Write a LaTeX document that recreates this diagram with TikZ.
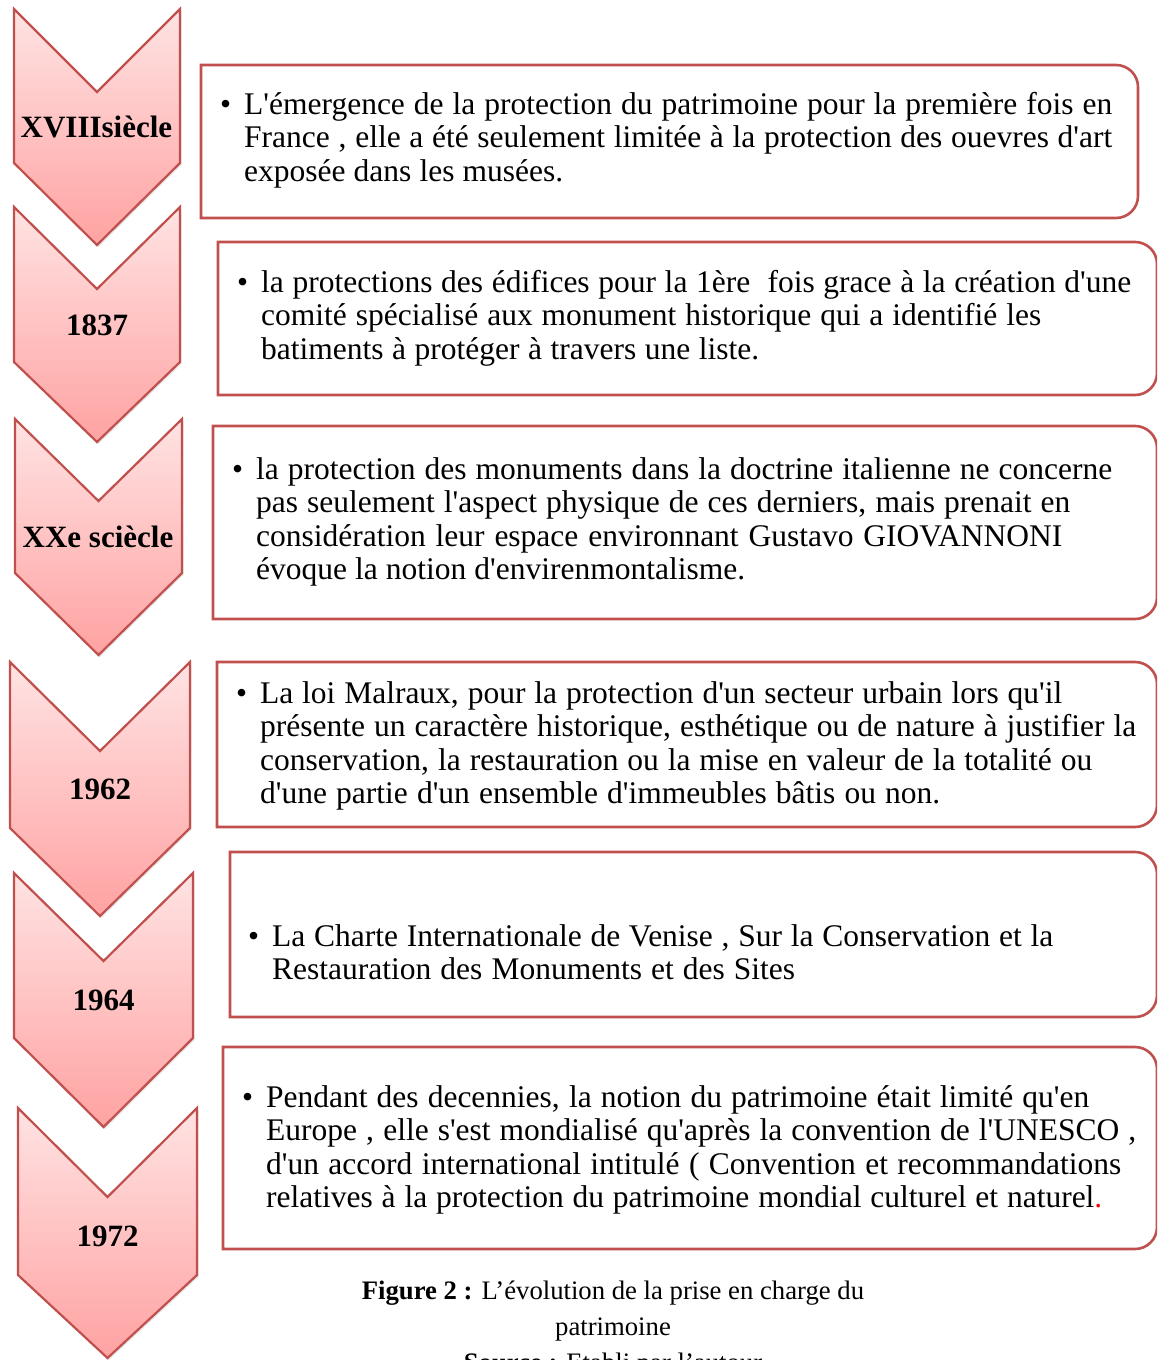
\documentclass[tikz,border=0pt]{standalone}
\usepackage{fontspec}
\usetikzlibrary{shadows}
\newfontfamily\bodyfont{Liberation Serif}
\definecolor{edge}{HTML}{C0504D}
\definecolor{ctop}{HTML}{FFE3E3}
\definecolor{cbot}{HTML}{FFA2A2}
\newcommand\Lw[2]{\makebox[#1pt][s]{#2}}
\newcommand\chevr[6]{%
  \pgfmathsetmacro\cxm{(#1+#2)/2}%
  \draw[chev] (#1,#3) -- (\cxm,#4) -- (#2,#3) -- (#2,#5) -- (\cxm,#6) -- (#1,#5) -- cycle;}
\newcommand\tbox[4]{%
  \draw[boxline] (#1,#2) -- ({#3-22},#2) arc[start angle=90,end angle=0,radius=22pt]
    -- (#3,{#4-22}) arc[start angle=0,end angle=-90,radius=22pt] -- (#1,#4) -- cycle;}
\tikzset{
  chev/.style={draw=edge, line width=2.2pt, line join=miter, top color=ctop, bottom color=cbot,
    drop shadow={opacity=0.18, shadow xshift=1.5pt, shadow yshift=-2pt}},
  boxline/.style={draw=edge, line width=2.6pt, fill=white},
  lab/.style={font=\bodyfont\bfseries\fontsize{31}{31}\selectfont, inner sep=0pt, anchor=base},
  txt/.style={font=\bodyfont\fontsize{31.5}{33.5}\selectfont, inner sep=0pt, anchor=base west},
  capt/.style={font=\bodyfont\fontsize{26.7}{36}\selectfont, inner sep=0pt, anchor=base}
}
\begin{document}
\begin{tikzpicture}[x=1pt,y=-1pt]
\clip (0,0) rectangle (1157,1360);
\fill[white] (0,0) rectangle (1157,1360);
% chevrons
\chevr{14}{180}{9}{92}{163}{245}
\chevr{14}{180}{207}{289}{362}{442}
\chevr{15}{182}{419}{501}{573}{655}
\chevr{10}{190}{662}{751}{828}{916}
\chevr{14}{193}{873}{961}{1038}{1127}
\chevr{18}{197}{1108}{1197}{1275}{1358}
\node[lab] (c1) at (96.5,137) {XVIIIsiècle};
\node[lab] (c2) at (97,335) {1837};
\node[lab] (c3) at (98,547) {XXe sciècle};
\node[lab] (c4) at (100,799) {1962};
\node[lab] (c5) at (103.5,1010) {1964};
\node[lab] (c6) at (107.5,1246) {1972};
% boxes
\tbox{201}{65}{1138}{218}
\tbox{218}{242}{1157}{395}
\tbox{213}{426}{1157}{619}
\tbox{217}{662}{1157}{827}
\tbox{230}{852}{1157}{1017}
\tbox{223}{1047}{1157}{1249}
% box texts
\node[txt] (b1) at (220,114) {\textbullet};
\node[txt] (t1) at (244,114) {\parbox[t]{900pt}{%
\Lw{868}{L'émergence de la protection du patrimoine pour la première fois en}\\%
\Lw{868}{France , elle a été seulement limitée à la protection des ouevres d'art}\\%
\Lw{319}{exposée dans les musées.}}};
\node[txt] (b2) at (237,292) {\textbullet};
\node[txt] (t2) at (261,292) {\parbox[t]{900pt}{%
\Lw{870}{la protections des édifices pour la 1ère \ fois grace à la création d'une}\\%
\Lw{780}{comité spécialisé aux monument historique qui a identifié les}\\%
\Lw{498}{batiments à protéger à travers une liste.}}};
\node[txt] (b3) at (232,479) {\textbullet};
\node[txt] (t3) at (256,479) {\parbox[t]{900pt}{%
\Lw{856}{la protection des monuments dans la doctrine italienne ne concerne}\\%
\Lw{814}{pas seulement l'aspect physique de ces derniers, mais prenait en}\\%
\Lw{806}{considération leur espace environnant Gustavo GIOVANNONI}\\%
\Lw{489}{évoque la notion d'envirenmontalisme.}}};
\node[txt] (b4) at (236,703) {\textbullet};
\node[txt] (t4) at (260,703) {\parbox[t]{900pt}{%
\Lw{802}{La loi Malraux, pour la protection d'un secteur urbain lors qu'il}\\%
\Lw{876}{présente un caractère historique, esthétique ou de nature à justifier la}\\%
\Lw{832}{conservation, la restauration ou la mise en valeur de la totalité ou}\\%
\Lw{680}{d'une partie d'un ensemble d'immeubles bâtis ou non.}}};
\node[txt] (b5) at (248,946) {\textbullet};
\node[txt] (t5) at (272,946) {\parbox[t]{900pt}{%
\Lw{781}{La Charte Internationale de Venise , Sur la Conservation et la}\\%
\Lw{523}{Restauration des Monuments et des Sites}}};
\node[txt] (b6) at (242,1107) {\textbullet};
\node[txt] (t6) at (266,1107) {\parbox[t]{900pt}{%
\Lw{823}{Pendant des decennies, la notion du patrimoine était limité qu'en}\\%
\Lw{870}{Europe , elle s'est mondialisé qu'après la convention de l'UNESCO ,}\\%
\Lw{855}{d'un accord international intitulé ( Convention et recommandations}\\%
\Lw{836}{relatives à la protection du patrimoine mondial culturel et naturel\textcolor{red}{.}}}};
% caption
\node[capt] (cap1) at (613,1299) {\textbf{Figure 2 :} L’évolution de la prise en charge du};
\node[capt] (cap2) at (613,1335) {patrimoine};
\node[capt] (cap3) at (613,1371) {\textbf{Source :} Etabli par l’autour};
\end{tikzpicture}
\end{document}
